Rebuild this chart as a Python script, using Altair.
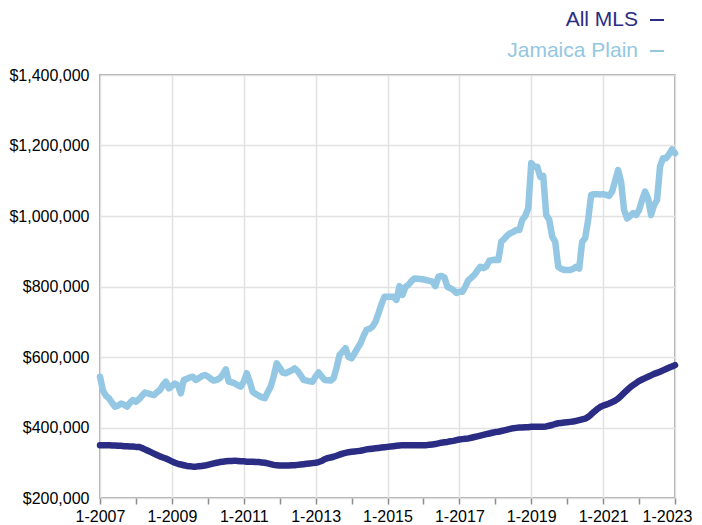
import altair as alt
import pandas as pd

START_YEAR = 2007

# Monthly median prices (thousands of $), Jan 2007 .. Jan 2023
all_mls_k = [
    350, 350, 350, 350, 349, 349, 348, 348, 347, 347, 346, 346,   # 2007
    345, 345, 342, 338, 334, 330, 326, 322, 318, 315, 312, 308,   # 2008
    304, 300, 297, 295, 293, 291, 290, 289, 289, 290, 291, 292,   # 2009
    294, 296, 298, 300, 302, 303, 304, 305, 305, 306, 305, 304,   # 2010
    304, 303, 303, 303, 302, 302, 301, 300, 298, 296, 294, 293,   # 2011
    292, 292, 292, 292, 293, 293, 294, 295, 296, 297, 298, 299,   # 2012
    300, 302, 305, 310, 313, 315, 317, 320, 323, 326, 328, 330,   # 2013
    331, 332, 333, 334, 336, 338, 339, 340, 341, 342, 343, 344,   # 2014
    345, 346, 347, 348, 349, 350, 350, 350, 350, 350, 350, 350,   # 2015
    350, 350, 351, 352, 353, 355, 357, 358, 359, 361, 362, 364,   # 2016
    366, 367, 368, 369, 371, 373, 375, 377, 379, 381, 383, 385,   # 2017
    387, 388, 390, 392, 394, 396, 398, 399, 400, 400, 401, 401,   # 2018
    402, 402, 402, 402, 402, 403, 405, 407, 410, 412, 413, 414,   # 2019
    415, 416, 417, 419, 421, 423, 425, 430, 437, 445, 452, 458,   # 2020
    462, 465, 468, 472, 476, 482, 490, 498, 506, 514, 520, 526,   # 2021
    532, 536, 540, 544, 548, 552, 555, 558, 562, 566, 570, 573,   # 2022
    577,                                                          # 2023
]

jamaica_plain_k = [
    544, 505, 490, 483, 470, 459, 462, 468, 465, 459, 470, 478,   # 2007
    473, 480, 490, 499, 497, 494, 492, 500, 506, 520, 530, 511,   # 2008
    518, 525, 520, 497, 535, 538, 542, 544, 535, 540, 546, 549,   # 2009
    545, 538, 533, 535, 540, 550, 565, 530, 528, 525, 520, 516,   # 2010
    530, 554, 530, 501, 495, 490, 486, 483, 500, 516, 545, 582,   # 2011
    570, 556, 554, 558, 562, 568, 560, 548, 535, 533, 531, 530,   # 2012
    545, 556, 545, 535, 534, 533, 540, 570, 606, 615, 625, 600,   # 2013
    596, 610, 625, 639, 660, 677, 680, 686, 700, 724, 750, 771,   # 2014
    771, 771, 771, 762, 801, 776, 799, 805, 815, 823, 822, 821,   # 2015
    820, 818, 816, 814, 801, 828, 830, 826, 799, 795, 790, 782,   # 2016
    785, 785, 800, 818, 825, 833, 845, 856, 852, 857, 873, 875,   # 2017
    876, 875, 927, 935, 945, 951, 955, 960, 960, 989, 1000, 1022, # 2018
    1150, 1140, 1140, 1111, 1114, 1003, 989, 941, 927, 856, 850, 847,  # 2019
    847, 847, 850, 856, 851, 927, 937, 989, 1060, 1062, 1062, 1061,    # 2020
    1062, 1060, 1057, 1069, 1100, 1130, 1097, 1017, 993, 1000, 1008, 1003,  # 2021
    1017, 1045, 1069, 1050, 1003, 1031, 1045, 1140, 1164, 1164, 1175, 1189, # 2022
    1178,                                                         # 2023
]

series_names = ["All MLS", "Jamaica Plain"]
series_colors = ["#2b2d84", "#93c7e3"]
y_ticks = [200000, 400000, 600000, 800000, 1000000, 1200000, 1400000]
x_tick_months = list(range(0, 193, 12))

rows = []
for i, (a, j) in enumerate(zip(all_mls_k, jamaica_plain_k)):
    rows.append({"month": i, "series": "All MLS", "price": a * 1000})
    rows.append({"month": i, "series": "Jamaica Plain", "price": j * 1000})
df = pd.DataFrame(rows)

FONT = "Liberation Sans"

lines = alt.Chart(df).mark_line(
    strokeWidth=6.5, strokeJoin="round", strokeCap="round"
).encode(
    x=alt.X(
        "month:Q",
        scale=alt.Scale(domain=[0, 192], nice=False, zero=False),
        axis=alt.Axis(
            values=x_tick_months,
            labelExpr=f"datum.value % 24 == 0 ? '1-' + ({START_YEAR} + datum.value / 12) : ''",
            title=None,
            grid=True,
            gridOpacity={"condition": {"test": "datum.value % 24 != 0", "value": 0}, "value": 1},
            gridColor="#e2e2e2",
            gridWidth=1.5,
            domain=False,
            ticks=True,
            tickSize=6,
            tickColor="#8c8c8c",
            tickWidth=1.5,
            labelPadding=4,
            labelFlush=False,
            labelOffset={"condition": {"test": "datum.value == 192", "value": -8}, "value": 0},
            labelFontSize=16,
            labelColor="#000000",
            labelFont=FONT,
            labelOverlap=False,
        ),
    ),
    y=alt.Y(
        "price:Q",
        scale=alt.Scale(domain=[200000, 1400000], nice=False, zero=False),
        axis=alt.Axis(
            values=y_ticks,
            format="$,.0f",
            title=None,
            grid=True,
            gridColor="#e2e2e2",
            gridWidth=1.5,
            domain=False,
            ticks=False,
            labelPadding=11,
            labelFlush=False,
            labelFontSize=16,
            labelColor="#000000",
            labelFont=FONT,
        ),
    ),
    color=alt.Color(
        "series:N",
        scale=alt.Scale(domain=series_names, range=series_colors),
        legend=None,
    ),
)

legend_df = pd.DataFrame({"series": series_names})
legend_layers = []
legend_rows_y = [-55, -24]
for name, col, yy in zip(series_names, series_colors, legend_rows_y):
    base = alt.Chart(legend_df).transform_filter(alt.datum.series == name)
    txt = base.mark_text(
        align="right", baseline="middle", fontSize=21, font=FONT, color=col
    ).encode(text="series:N", x=alt.value(538), y=alt.value(yy))
    sym = base.mark_rule(strokeWidth=2, color=col).encode(
        x=alt.value(550), x2=alt.value(564), y=alt.value(yy)
    )
    legend_layers += [txt, sym]

chart = alt.layer(lines, *legend_layers).properties(
    width=575,
    height=423,
    autosize=alt.AutoSizeParams(type="none"),
    padding={"left": 92, "top": 67, "right": 19, "bottom": 30},
).configure_view(stroke="#8c8c8c", strokeWidth=1.5)

chart.save("out.html", embed_options={"renderer": "svg", "actions": False})
